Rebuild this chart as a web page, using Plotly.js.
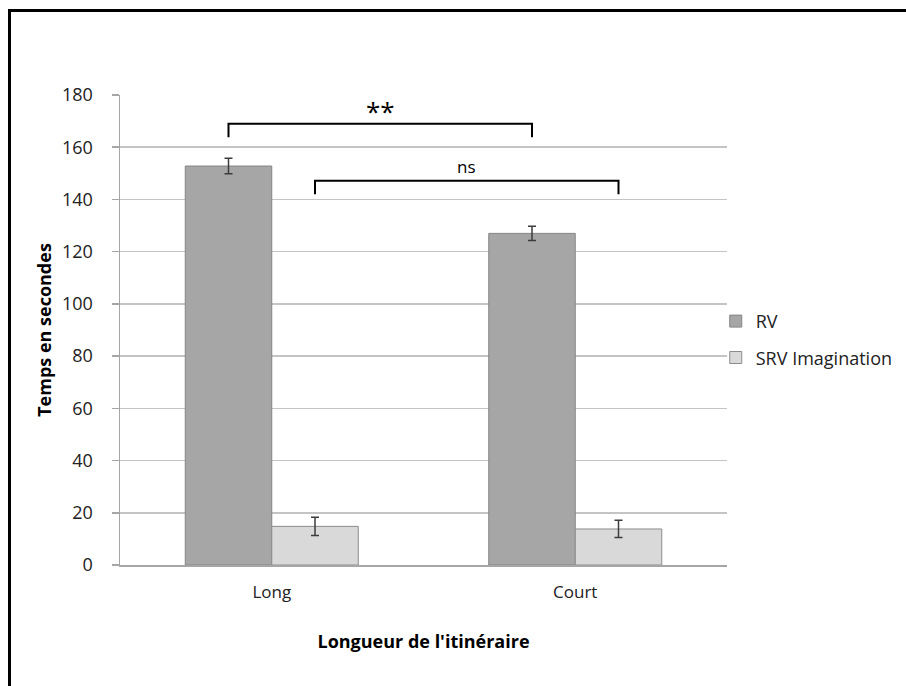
<!DOCTYPE html>
<html>
<head>
<meta charset="utf-8">
<script src="https://cdn.plot.ly/plotly-3.0.1.min.js"></script>
<style>
  html, body { margin: 0; padding: 0; background: #fff; }
  #wrap { position: relative; width: 906px; height: 686px; }
  #chart { width: 906px; height: 686px; }
  #frame { position: absolute; left: 8px; top: 9px; right: -10px; bottom: -10px;
           border-left: 3px solid #000; border-top: 3px solid #000; pointer-events: none; }
</style>
</head>
<body>
<div id="wrap">
  <div id="chart"></div>
  <div id="frame"></div>
</div>
<script>
// ---- data ----
const categories = ["Long", "Court"];
const seriesNames = ["RV", "SRV Imagination"];
const rvValues = [152.8, 127.0];
const rvErrors = [3.0, 2.7];
const srvValues = [14.8, 13.8];
const srvErrors = [3.5, 3.3];
const yTicks = [0, 20, 40, 60, 80, 100, 120, 140, 160, 180];
// significance brackets
const sigLabels = ["**", "ns"];
const sigTop = [169, 147.2];
const sigFoot = [163.8, 142];
const sigText = [174.2, 152.6];
const sigSeries = [0, 1];   // 0 = RV bars, 1 = SRV bars

const font = "'Open Sans', 'Liberation Sans', sans-serif";
const bargap = 0.43;
const groupW = 1 - bargap;
const barOffset = groupW / 4;

const traces = [
  {
    type: "bar", name: seriesNames[0], x: categories, y: rvValues,
    legendgroup: "a",
    marker: { color: "#a6a6a6", line: { color: "#858585", width: 1 } },
    error_y: { type: "data", array: rvErrors, visible: true, color: "#3c3c3c", thickness: 1.5, width: 4 }
  },
  {
    type: "bar", name: seriesNames[1], x: categories, y: srvValues,
    legendgroup: "b",
    marker: { color: "#d9d9d9", line: { color: "#8c8c8c", width: 1 } },
    error_y: { type: "data", array: srvErrors, visible: true, color: "#3c3c3c", thickness: 1.5, width: 4 }
  }
];

const shapes = [];
const annotations = [];
sigLabels.forEach((lab, i) => {
  const off = sigSeries[i] === 0 ? -barOffset : barOffset;
  const x0 = 0 + off, x1 = 1 + off;
  shapes.push({
    type: "path", xref: "x", yref: "y",
    path: `M ${x0},${sigFoot[i]} L ${x0},${sigTop[i]} L ${x1},${sigTop[i]} L ${x1},${sigFoot[i]}`,
    line: { color: "#000", width: 2 }
  });
  annotations.push({
    xref: "x", yref: "y", x: (x0 + x1) / 2, y: sigText[i], text: lab, showarrow: false,
    yshift: lab === "**" ? -1 : 0,
    font: { family: font, size: lab === "**" ? 26 : 17, color: "#000" }
  });
});

const layout = {
  width: 906, height: 686,
  margin: { l: 120, r: 179, t: 95, b: 121, autoexpand: false },
  paper_bgcolor: "#fff", plot_bgcolor: "#fff",
  barmode: "group", bargap: bargap, bargroupgap: 0,
  font: { family: font, size: 17, color: "#222" },
  xaxis: {
    type: "category",
    showgrid: false, showline: true, linecolor: "#a6a6a6", linewidth: 1.5,
    ticks: "", ticklabelstandoff: 11,
    tickfont: { family: font, size: 17, color: "#222" },
    title: { text: "<b>Longueur de l'itinéraire</b>", font: { family: font, size: 18, color: "#000" }, standoff: 33 },
    fixedrange: true
  },
  yaxis: {
    range: [0, 180], tickvals: yTicks,
    showgrid: true, gridcolor: "#c4c4c4", gridwidth: 1.5,
    showline: true, linecolor: "#a6a6a6", linewidth: 1.5,
    ticks: "outside", ticklen: 7, tickcolor: "#a6a6a6", tickwidth: 1.5,
    ticklabelstandoff: 15,
    tickfont: { family: font, size: 18, color: "#222" },
    zeroline: false,
    title: { text: "<b>Temps en secondes</b>", font: { family: font, size: 18, color: "#000" }, standoff: 5 },
    fixedrange: true
  },
  legend: {
    xref: "container", x: 0.79, xanchor: "left", y: 0.48, yanchor: "middle",
    traceorder: "grouped", tracegroupgap: 10,
    font: { family: font, size: 18, color: "#222" },
    bgcolor: "rgba(0,0,0,0)", itemclick: false
  },
  shapes: shapes,
  annotations: annotations,
  showlegend: true
};

Plotly.newPlot("chart", traces, layout, { displayModeBar: false, staticPlot: true });
</script>
</body>
</html>
